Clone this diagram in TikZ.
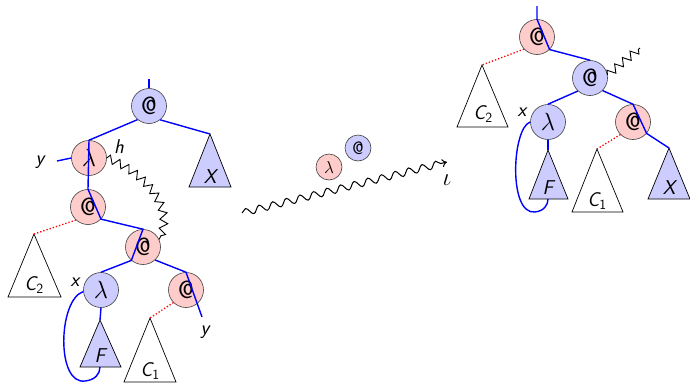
\documentclass[tikz,border=0pt]{standalone}
\usetikzlibrary{decorations.pathmorphing,arrows.meta}
\begin{document}
\begin{tikzpicture}[x=1pt,y=-1pt,
  every node/.style={font=\sffamily\fontsize{20}{24}\selectfont},
  op/.style={circle,draw=black!75,line width=0.6pt,minimum size=35pt,inner sep=0pt,font=\sffamily\fontsize{25}{28}\selectfont},
  redop/.style={op,fill=red!20},
  blueop/.style={op,fill=blue!20},
  smallop/.style={minimum size=26pt,font=\sffamily\fontsize{18}{20}\selectfont},
  spine/.style={blue,line width=1.4pt},
  dead/.style={red,dotted,line width=1.3pt},
  sub/.style={draw,line width=0.7pt,line join=miter},
  lbl/.style={inner sep=0pt},
  zz/.style={decorate,decoration={zigzag,segment length=10pt,amplitude=4pt},line width=0.9pt},
]
\useasboundingbox (0,0) rectangle (690,383);

% ---------- left tree ----------
\node[blueop] (a1) at (149,106) {@};
\node[redop]  (l1) at (89,158)  {$\lambda$};
\node[redop]  (a2) at (88,207)  {@};
\node[redop]  (a3) at (143,247) {@};
\node[blueop] (l2) at (101,290) {$\lambda$};
\node[redop]  (a4) at (186,290) {@};

% subtrees
\draw[sub,fill=blue!20] (210,134) coordinate (tX) -- (231,187) -- (189,187) -- cycle;
\node[lbl] (lX) at (210,177) {\itshape X};
\draw[sub,fill=white] (34,234) coordinate (tC2) -- (61,297) -- (8,297) -- cycle;
\node[lbl] (lC2) at (34,285) {{\itshape C}\textsubscript{2}};
\draw[sub,fill=blue!20] (100,320) coordinate (tF) -- (121,367) -- (80,367) -- cycle;
\coordinate (bF) at (100,367);
\node[lbl] (lF) at (100,356) {\itshape F};
\draw[sub,fill=white] (150,318) coordinate (tC1) -- (176,382) -- (124,382) -- cycle;
\node[lbl] (lC1) at (150,371) {{\itshape C}\textsubscript{1}};

% spine
\coordinate (top1) at (149,79);
\coordinate (yin) at (57,161);
\coordinate (yout) at (202,317);
\draw[spine] (top1) -- (a1.north);
\draw[spine] (a1.-51) -- (tX);
\draw[spine] (a1.230) -- (l1.north) -- (a2.north) -- (a2.-43) -- (a3.north) -- (a3.229) -- (l2.north);
\draw[spine] (l2.south) -- (tF);
\draw[spine] (a3.-47) -- (a4.north) -- (yout);
\draw[spine] (yin) -- (l1.west);
\draw[spine] (l2.185) .. controls (58,300) and (56,385) .. (85,381) .. controls (95,380) and (100,374) .. (bF);

% discarded arguments
\draw[dead] (a2.227) -- (tC2);
\draw[dead] (a4.225) -- (tC1);

% redex marker
\draw[zz] (l1.east) .. controls (140,170) and (177,205) .. (a3.25);

% labels
\node[lbl] (ly1) at (40,162) {\itshape y};
\node[lbl] (lh)  at (119,147) {\itshape h};
\node[lbl] (lx1) at (75,282) {\itshape x};
\node[lbl] (ly2) at (205,332) {\itshape y};

% ---------- reduction step ----------
\node[redop,smallop]  (ml) at (329,167) {$\lambda$};
\node[blueop,smallop] (ma) at (358,148) {@};
\coordinate (ws) at (242,213);
\coordinate (we) at (447,162);
\draw[decorate,decoration={snake,segment length=14pt,amplitude=3.5pt,post length=6pt},line width=1pt,-{To[length=5pt,width=8pt]}] (ws) -- (we);
\node[lbl,font=\fontsize{24}{26}\selectfont] (li) at (447,180) {$\iota$};

% ---------- right tree ----------
\node[redop]  (r1) at (537,37)  {@};
\node[blueop] (r2) at (590,78)  {@};
\node[blueop] (l3) at (548,122) {$\lambda$};
\node[redop]  (r3) at (633,122) {@};

\draw[sub,fill=white] (482,65) coordinate (tC2b) -- (508,127) -- (457,127) -- cycle;
\node[lbl] (lC2b) at (483,114) {{\itshape C}\textsubscript{2}};
\draw[sub,fill=blue!20] (548,150) coordinate (tFb) -- (568,199) -- (529,199) -- cycle;
\coordinate (bFb) at (548,199);
\node[lbl] (lFb) at (548,188) {\itshape F};
\draw[sub,fill=white] (597,149) coordinate (tC1b) -- (623,212) -- (572,212) -- cycle;
\node[lbl] (lC1b) at (597,201) {{\itshape C}\textsubscript{1}};
\draw[sub,fill=blue!20] (669,148) coordinate (tXb) -- (690,199) -- (648,199) -- cycle;
\node[lbl] (lXb) at (669,188) {\itshape X};

\coordinate (top2) at (537,6);
\draw[spine] (top2) -- (r1.north) -- (r1.-45) -- (r2.north);
\draw[spine] (r2.227) -- (l3.north);
\draw[spine] (r2.-45) -- (r3.north) -- (r3.-40) -- (tXb);
\draw[spine] (l3.south) -- (tFb);
\draw[spine] (l3.180) .. controls (512,128) and (508,215) .. (535,212) .. controls (544,211) and (548,205) .. (bFb);

\draw[dead] (r1.223) -- (tC2b);
\draw[dead] (r3.225) -- (tC1b);

\coordinate (zend) at (640,48);
\draw[zz] (r2.10) -- (zend);

\node[lbl] (lx2) at (522,112) {\itshape x};
\end{tikzpicture}
\end{document}
